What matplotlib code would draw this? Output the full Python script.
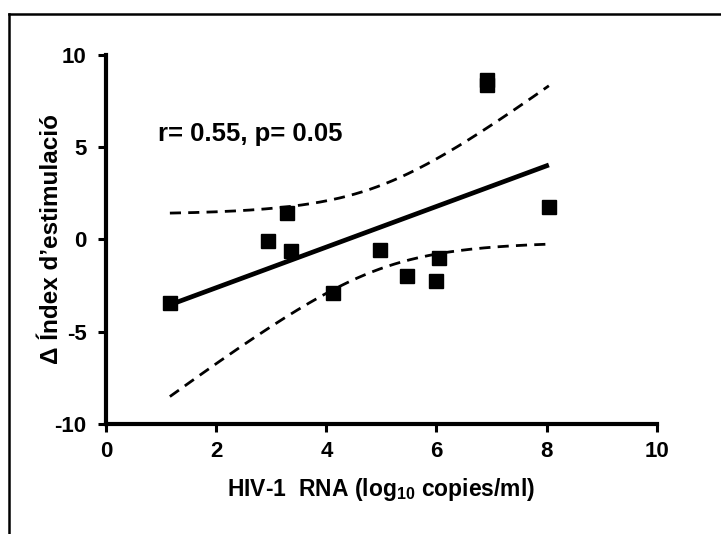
import numpy as np
import matplotlib
matplotlib.use("Agg")
from matplotlib import pyplot as plt
from matplotlib.lines import Line2D

plt.rcParams['font.family'] = ['Liberation Sans', 'DejaVu Sans']
plt.rcParams['font.weight'] = 'bold'
plt.rcParams['axes.unicode_minus'] = False
plt.rcParams['mathtext.fontset'] = 'custom'
plt.rcParams['mathtext.rm'] = 'Liberation Sans:bold'
plt.rcParams['mathtext.it'] = 'Liberation Sans:bold'
plt.rcParams['mathtext.bf'] = 'Liberation Sans:bold'

# viral load (log10 copies/ml) vs change in stimulation index
viral_load = [1.16, 2.94, 3.28, 3.36, 4.12, 4.97, 5.46, 5.99, 6.04, 6.91, 6.91, 8.04]
delta_index = [-3.44, -0.08, 1.44, -0.62, -2.90, -0.57, -1.98, -2.25, -1.00, 8.67, 8.35, 1.76]

x_ticks = [0, 2, 4, 6, 8, 10]
y_ticks = [-10, -5, 0, 5, 10]
stats_label = "r= 0.55, p= 0.05"
t_crit = 2.228  # two-sided 95%, df = n - 2 = 10

x = np.array(viral_load)
y = np.array(delta_index)
n = len(x)
slope, intercept = np.polyfit(x, y, 1)
resid = y - (slope * x + intercept)
s = np.sqrt(np.sum(resid ** 2) / (n - 2))
sxx = np.sum((x - x.mean()) ** 2)

xs = np.linspace(x.min(), x.max(), 200)
fit = slope * xs + intercept
half = t_crit * s * np.sqrt(1.0 / n + (xs - x.mean()) ** 2 / sxx)

fig = plt.figure(figsize=(7.21, 5.34), dpi=100)
ax = fig.add_axes([0.147, 0.206, 0.764, 0.691])

ax.plot(xs, fit, color="black", linewidth=3.4, solid_capstyle="butt")
ax.plot(xs, fit + half, color="black", linewidth=2.0, dashes=(4, 2.6))
ax.plot(xs, fit - half, color="black", linewidth=2.0, dashes=(4, 2.6))
ax.plot(x, y, linestyle="none", marker="s", markersize=9.5, color="black")

ax.text(0.94, 5.35, stats_label, fontsize=18.5, fontweight="bold", va="baseline")

ax.set_xlim(0, 10)
ax.set_ylim(-10, 10)
ax.set_xticks(x_ticks)
ax.set_yticks(y_ticks)
ax.tick_params(direction="out", length=6, width=2.2, labelsize=16)
ax.tick_params(axis="x", pad=6)
ax.tick_params(axis="y", pad=8)
for side in ["top", "right"]:
    ax.spines[side].set_visible(False)
for side in ["left", "bottom"]:
    ax.spines[side].set_linewidth(3.0)
    ax.spines[side].set_capstyle("projecting")

ax.set_xlabel("HIV-1  RNA (log$_{10}$ copies/ml)", fontsize=16.5, fontweight="bold")
ax.set_ylabel("\u0394 \u00cdndex d\u2019estimulaci\u00f3", fontsize=17.5, fontweight="bold")
ax.xaxis.set_label_coords(0.5, -0.14)
ax.yaxis.set_label_coords(-0.078, 0.5)

# outer frame (only top and left edges fall inside the canvas)
fig.add_artist(Line2D([0.0118, 1.0], [0.9747, 0.9747], transform=fig.transFigure,
                      color="black", linewidth=1.8))
fig.add_artist(Line2D([0.0118, 0.0118], [0.0, 0.9747], transform=fig.transFigure,
                      color="black", linewidth=1.8))

fig.savefig("out.png", dpi=100)
